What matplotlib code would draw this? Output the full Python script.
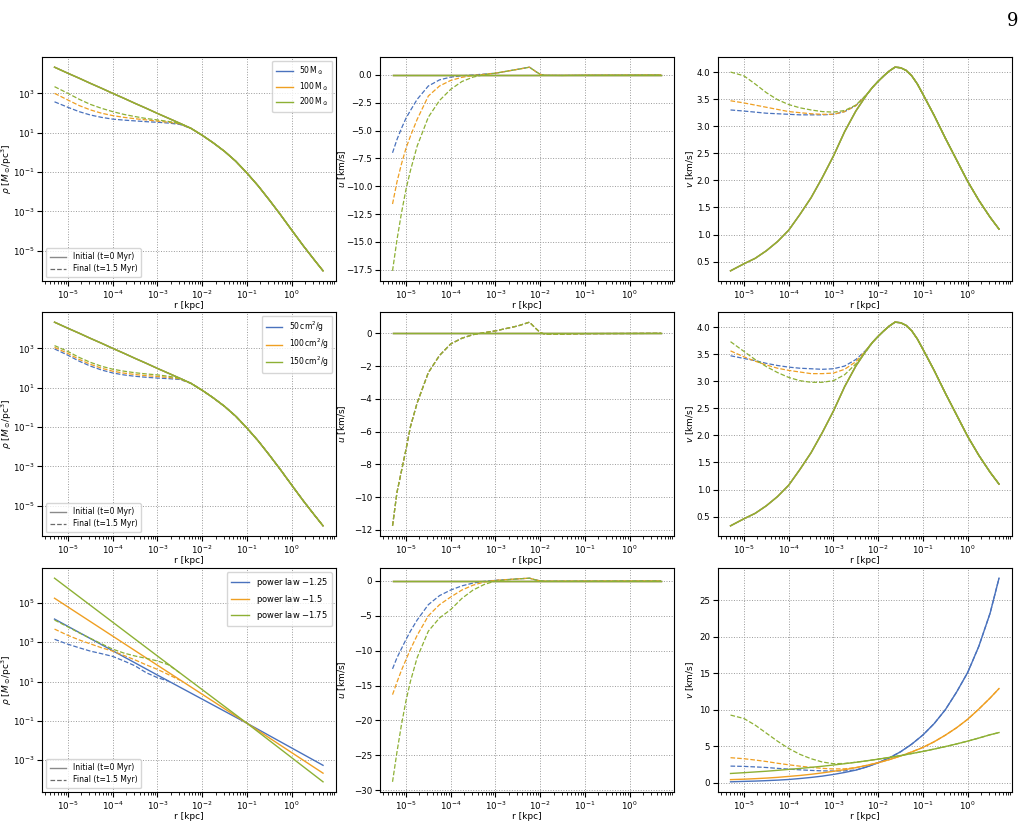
import numpy as np
import matplotlib.pyplot as plt
from matplotlib.lines import Line2D
from matplotlib.ticker import NullLocator

# ---- radial grids (log10 r / kpc) ----
logr = [-5.3, -5.0, -4.75, -4.5, -4.25, -4.0, -3.75, -3.5, -3.25, -3.0, -2.75, -2.5, -2.25,
        -2.0, -1.75, -1.5, -1.25, -1.0, -0.75, -0.5, -0.25, 0.0, 0.25, 0.5, 0.7]
logr_v = [-5.3, -5.0, -4.75, -4.5, -4.25, -4.0, -3.75, -3.5, -3.25, -3.0, -2.75, -2.5, -2.25,
          -2.125, -2.0, -1.875, -1.75, -1.625, -1.5, -1.375, -1.25, -1.125, -1.0,
          -0.75, -0.5, -0.25, 0.0, 0.25, 0.5, 0.7]
logr_u = [-5.3, -5.2, -5.1, -5.0, -4.9, -4.75, -4.5, -4.25, -4.0, -3.75, -3.5, -3.25, -3.0,
          -2.5, -2.24, -2.1, -2.0, -1.9, -1.5, -1.0, 0.0, 0.7]
logr_ends = [-5.3, 0.7]
logr_pl = [-5.3, -3.0, -1.0, 0.7]

# ---- rows 1 & 2: same initial halo ----
rho_init = [4.33, 4.02, 3.77, 3.51, 3.26, 3.00, 2.75, 2.49, 2.24, 1.98, 1.73, 1.48, 1.22,
            0.87, 0.48, 0.05, -0.45, -1.05, -1.70, -2.42, -3.17, -3.95, -4.72, -5.45, -6.02]
v_init = [0.33, 0.46, 0.56, 0.70, 0.87, 1.08, 1.37, 1.68, 2.05, 2.45, 2.90, 3.28, 3.59,
          3.72, 3.83, 3.93, 4.02, 4.09, 4.08, 4.03, 3.93, 3.78, 3.59,
          3.20, 2.78, 2.38, 1.98, 1.63, 1.32, 1.10]
u_init = [0.0, 0.0]

# row 1 (mass), final profiles up to where they rejoin the initial curve
rho_fin_mass = [
    [2.57, 2.29, 2.07, 1.90, 1.78, 1.69, 1.64, 1.60, 1.56, 1.53, 1.49, 1.42, 1.22],
    [3.00, 2.66, 2.38, 2.16, 1.99, 1.87, 1.78, 1.71, 1.65, 1.59, 1.53, 1.45, 1.22],
    [3.34, 3.00, 2.70, 2.44, 2.24, 2.07, 1.93, 1.82, 1.72, 1.65, 1.57, 1.47, 1.22],
]
u_fin_mass = [
    [-7.0, -5.8, -4.8, -3.9, -3.2, -2.2, -1.0, -0.45, -0.2, -0.08, -0.01, 0.07, 0.15,
     0.5, 0.69, 0.3, 0.05, -0.04, -0.05, -0.03, -0.02, -0.01],
    [-11.6, -9.6, -8.0, -6.6, -5.5, -4.0, -1.9, -1.0, -0.5, -0.22, -0.06, 0.05, 0.15,
     0.5, 0.69, 0.3, 0.05, -0.04, -0.05, -0.03, -0.02, -0.01],
    [-17.6, -14.8, -12.4, -10.3, -8.6, -6.4, -3.8, -2.3, -1.3, -0.6, -0.2, 0.02, 0.15,
     0.5, 0.69, 0.3, 0.05, -0.04, -0.05, -0.03, -0.02, -0.01],
]
v_fin_mass = [
    [3.30, 3.28, 3.26, 3.24, 3.23, 3.22, 3.21, 3.21, 3.21, 3.22, 3.27, 3.38, 3.59],
    [3.47, 3.43, 3.39, 3.35, 3.31, 3.27, 3.25, 3.23, 3.22, 3.22, 3.27, 3.38, 3.59],
    [4.00, 3.93, 3.78, 3.62, 3.49, 3.40, 3.34, 3.30, 3.27, 3.26, 3.29, 3.39, 3.59],
]

# row 2 (cross section)
rho_fin_sigma = [
    [2.97, 2.65, 2.35, 2.10, 1.90, 1.75, 1.65, 1.58, 1.53, 1.49, 1.46, 1.42, 1.22],
    [3.05, 2.74, 2.44, 2.19, 1.99, 1.84, 1.74, 1.67, 1.61, 1.57, 1.52, 1.45, 1.22],
    [3.14, 2.84, 2.54, 2.29, 2.09, 1.94, 1.84, 1.76, 1.70, 1.65, 1.58, 1.48, 1.22],
]
u_fin_sigma = [-11.75, -9.7, -8.4, -7.1, -5.7, -4.25, -2.4, -1.35, -0.65, -0.3, -0.08, 0.04,
               0.15, 0.45, 0.68, 0.3, 0.05, -0.05, -0.05, -0.02, -0.01, 0.0]
v_fin_sigma = [
    [3.47, 3.42, 3.38, 3.33, 3.29, 3.26, 3.24, 3.23, 3.22, 3.23, 3.28, 3.40, 3.59],
    [3.56, 3.45, 3.37, 3.30, 3.24, 3.20, 3.17, 3.14, 3.14, 3.15, 3.22, 3.36, 3.59],
    [3.73, 3.55, 3.40, 3.27, 3.16, 3.07, 3.01, 2.98, 2.98, 3.01, 3.12, 3.32, 3.57],
]

# row 3 (inner power law)
rho_init_pl = [
    [4.18, 1.33, -1.12, -3.26],
    [5.24, 1.83, -1.12, -3.66],
    [6.26, 2.30, -1.12, -4.10],
]
rho_fin_pl = [
    [3.15, 2.90, 2.72, 2.55, 2.42, 2.28, 2.05, 1.80, 1.45, 1.20, 1.02],
    [3.67, 3.35, 3.12, 2.92, 2.72, 2.55, 2.33, 2.10, 1.85, 1.62, 1.35, 1.07],
    [4.13, 3.78, 3.48, 3.20, 2.92, 2.65, 2.45, 2.30, 2.18, 2.05, 1.85, 1.44],
]
u_fin_pl = [
    [-12.6, -11.0, -9.7, -8.4, -7.2, -5.6, -3.4, -2.1, -1.3, -0.7, -0.3, -0.05, 0.1,
     0.3, 0.4, 0.15, 0.02, -0.03, -0.03, -0.02, -0.01, 0.0],
    [-16.3, -14.5, -12.8, -11.3, -9.8, -7.8, -5.0, -3.4, -2.3, -1.3, -0.6, -0.15, 0.1,
     0.3, 0.4, 0.15, 0.02, -0.03, -0.03, -0.02, -0.01, 0.0],
    [-28.8, -24.5, -20.6, -17.2, -14.4, -11.0, -7.2, -5.3, -4.1, -2.5, -1.3, -0.5, 0.0,
     0.3, 0.4, 0.15, 0.02, -0.03, -0.03, -0.02, -0.01, 0.0],
]
v_init_pl = [
    [0.14, 0.20, 0.24, 0.30, 0.37, 0.46, 0.59, 0.74, 0.92, 1.15, 1.42, 1.74, 2.19,
     2.75, 3.42, 4.25, 5.30, 6.55, 8.10, 10.0, 12.4, 15.1, 18.7, 23.2, 28.0],
    [0.44, 0.50, 0.57, 0.65, 0.75, 0.88, 1.01, 1.17, 1.36, 1.58, 1.80, 2.08, 2.40,
     2.75, 3.18, 3.67, 4.23, 4.85, 5.62, 6.52, 7.53, 8.70, 10.1, 11.6, 12.9],
    [1.28, 1.39, 1.49, 1.59, 1.71, 1.84, 1.97, 2.12, 2.27, 2.44, 2.62, 2.81, 3.02,
     3.24, 3.48, 3.73, 4.01, 4.30, 4.62, 4.96, 5.32, 5.71, 6.13, 6.58, 6.88],
]
v_fin_pl = [
    [2.29, 2.25, 2.18, 2.10, 1.98, 1.88, 1.78, 1.70, 1.64, 1.62, 1.64, 1.76, 2.19],
    [3.44, 3.30, 3.12, 2.92, 2.68, 2.47, 2.28, 2.12, 1.98, 1.90, 1.92, 2.08, 2.40],
    [9.27, 8.80, 7.90, 6.80, 5.70, 4.70, 3.90, 3.30, 2.85, 2.62, 2.65, 2.82, 3.02],
]

labels_mass = [r'50$\,\mathrm{M}_\odot$', r'100$\,\mathrm{M}_\odot$', r'200$\,\mathrm{M}_\odot$']
labels_sigma = [r'50$\,\mathrm{cm}^2$/g', r'100$\,\mathrm{cm}^2$/g', r'150$\,\mathrm{cm}^2$/g']
labels_pl = [r'power law $-1.25$', r'power law $-1.5$', r'power law $-1.75$']

colors = ['#4a72bd', '#ef9f22', '#8db034']
x_range = (10 ** -5.58, 10 ** 0.99)
x_ticks = [1e-5, 1e-4, 1e-3, 1e-2, 1e-1, 1e0]


def r_of(lr):
    return 10.0 ** np.array(lr)


def joined(inner, outer):
    """Final curve: read values inside, initial curve outside the merge radius."""
    return list(inner) + list(outer[len(inner):])


def style_axis(ax, ylabel, label_x, logy=False, yticks=None):
    ax.set_xscale('log')
    ax.set_xticks(x_ticks)
    ax.set_xlim(*x_range)
    if logy:
        ax.set_yscale('log')
        ax.set_yticks(yticks)
        ax.yaxis.set_minor_locator(NullLocator())
    ax.grid(True, which='major', ls=':', color='#9a9a9a', lw=0.7)
    ax.set_xlabel('r [kpc]', fontsize=6.5, labelpad=0)
    ax.set_ylabel(ylabel, fontsize=6.5)
    ax.yaxis.set_label_coords(label_x, 0.5)
    ax.tick_params(labelsize=6.2, pad=2)
    ax.tick_params(which='minor', length=2)


def time_legend(ax):
    handles = [Line2D([], [], color='#8a8a8a', lw=1.0, ls='-'),
               Line2D([], [], color='#6a6a6a', lw=0.9, ls='--')]
    leg = ax.legend(handles, ['Initial (t=0 Myr)', 'Final (t=1.5 Myr)'], loc='lower left',
                    fontsize=5.5, handlelength=2.2, borderpad=0.5, labelspacing=0.4)
    ax.add_artist(leg)


fig = plt.figure(figsize=(10.26, 8.22), dpi=100)

lefts = [42, 380, 718]
bottoms = [281, 536, 792]
axes = [[fig.add_axes([l / 1026, 1 - b / 822, 294 / 1026, 224 / 822]) for l in lefts]
        for b in bottoms]

rho_label = r'$\rho$ [$M_\odot$/pc$^3$]'
rows = [
    (labels_mass, rho_fin_mass, u_fin_mass, v_fin_mass),
    (labels_sigma, rho_fin_sigma, [u_fin_sigma] * 3, v_fin_sigma),
]

# rows 1 and 2
for row, (labels, rho_f, u_f, v_f) in enumerate(rows):
    ax_rho, ax_u, ax_v = axes[row]
    for i in range(3):
        c = colors[i]
        ax_rho.plot(r_of(logr), 10.0 ** np.array(rho_init), color=c, lw=1.0, label=labels[i])
        ax_rho.plot(r_of(logr), 10.0 ** np.array(joined(rho_f[i], rho_init)), color=c, lw=0.9, ls='--')
        ax_u.plot(r_of(logr_ends), u_init, color=c, lw=1.0)
        ax_u.plot(r_of(logr_u), u_f[i], color=c, lw=0.9, ls='--')
        ax_v.plot(r_of(logr_v), v_init, color=c, lw=1.0)
        ax_v.plot(r_of(logr_v), joined(v_f[i], v_init), color=c, lw=0.9, ls='--')
    style_axis(ax_rho, rho_label, -0.095, logy=True, yticks=[1e-5, 1e-3, 1e-1, 1e1, 1e3])
    style_axis(ax_u, r'$u$ [km/s]', -0.108)
    style_axis(ax_v, r'$v$ [km/s]', -0.075)
    time_legend(ax_rho)
    ax_rho.legend(loc='upper right', fontsize=5.5, handlelength=2.2, borderpad=0.5, labelspacing=0.4)

# row 3: power-law inner slopes
ax_rho, ax_u, ax_v = axes[2]
for i in range(3):
    c = colors[i]
    ax_rho.plot(r_of(logr_pl), 10.0 ** np.array(rho_init_pl[i]), color=c, lw=1.0, label=labels_pl[i])
    n = len(rho_fin_pl[i])
    ax_rho.plot(r_of(logr[:n]), 10.0 ** np.array(rho_fin_pl[i]), color=c, lw=0.9, ls='--')
    ax_u.plot(r_of(logr_ends), u_init, color=c, lw=1.0)
    ax_u.plot(r_of(logr_u), u_fin_pl[i], color=c, lw=0.9, ls='--')
    ax_v.plot(r_of(logr), v_init_pl[i], color=c, lw=1.0)
    ax_v.plot(r_of(logr), joined(v_fin_pl[i], v_init_pl[i]), color=c, lw=0.9, ls='--')
style_axis(ax_rho, rho_label, -0.095, logy=True, yticks=[1e-3, 1e-1, 1e1, 1e3, 1e5])
style_axis(ax_u, r'$u$ [km/s]', -0.108)
style_axis(ax_v, r'$v$ [km/s]', -0.075)
time_legend(ax_rho)
ax_rho.legend(loc='upper right', fontsize=6, handlelength=2.2, borderpad=0.5, labelspacing=0.4)

# page number
fig.text(0.993, 0.985, '9', ha='right', va='top', fontsize=13, family='DejaVu Serif')

fig.savefig('out.png', dpi=100)
